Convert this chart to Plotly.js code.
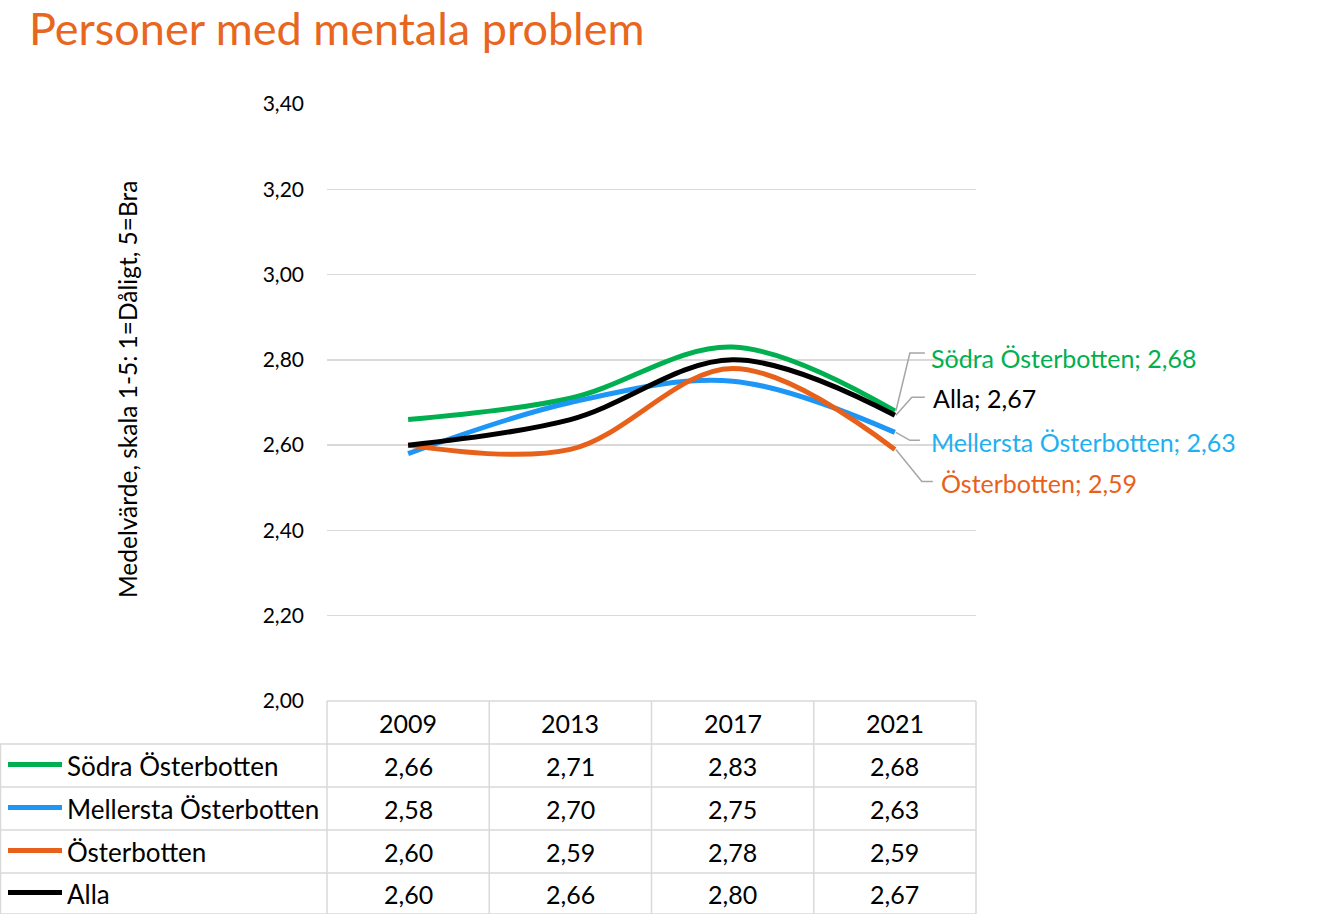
<!DOCTYPE html>
<html><head><meta charset="utf-8">
<script src="https://cdn.plot.ly/plotly-3.0.1.min.js"></script>
<style>body{margin:0;background:#fff}#chart{width:1332px;height:914px}</style>
</head><body><div id="chart"></div>
<script>
const years = ["2009","2013","2017","2021"];
const seriesNames = ["Södra Österbotten","Mellersta Österbotten","Österbotten","Alla"];
const sodra = [2.66, 2.71, 2.83, 2.68];
const mellersta = [2.58, 2.70, 2.75, 2.63];
const osterbotten = [2.60, 2.59, 2.78, 2.59];
const alla = [2.60, 2.66, 2.80, 2.67];
const yTicks = [2.0, 2.2, 2.4, 2.6, 2.8, 3.0, 3.2, 3.4];

const values = [sodra, mellersta, osterbotten, alla];
const lineColors = ["#00B050", "#1E96F5", "#E8611A", "#000000"];
const labelColors = ["#00B050", "#1FB0F0", "#E8611A", "#000000"];
const FONT = "Lato, 'Open Sans', sans-serif";

// plot geometry (pixels)
const L = 327, R = 976, T = 104, B = 701;
const W = R - L, H = B - T;
const px2paperX = p => (p - L) / W;
const py2paperY = p => (B - p) / H;
const v2paperY = v => (v - 2.0) / 1.4;

const traces = values.map((v, i) => ({
  x: years, y: v, type: "scatter", mode: "lines", name: seriesNames[i],
  line: {color: lineColors[i], width: 5, shape: "spline", smoothing: 1},
  hoverinfo: "skip"
}));

const shapes = [];
const annotations = [];
const gridC = "#d9d9d9";

// title
annotations.push({xref:"paper", yref:"paper", x:px2paperX(28), y:py2paperY(0), text:"Personer med mentala problem",
  showarrow:false, xanchor:"left", yanchor:"top", borderpad:0, font:{family:FONT, size:45, color:"#E8661E"}});
// y axis title
annotations.push({xref:"paper", yref:"paper", x:px2paperX(127), y:py2paperY(390), text:"Medelvärde, skala 1-5: 1=Dåligt, 5=Bra",
  showarrow:false, textangle:-90, xanchor:"center", yanchor:"middle", font:{family:FONT, size:24.5, color:"#000"}});

// table borders
const rowB = [701, 744, 787, 830, 873, 914];
shapes.push({type:"line", xref:"paper", yref:"paper", x0:0, x1:1, y0:py2paperY(701), y1:py2paperY(701), line:{color:gridC, width:1.5}});
for (let k = 1; k < rowB.length; k++) {
  shapes.push({type:"line", xref:"paper", yref:"paper", x0:px2paperX(0), x1:1, y0:py2paperY(rowB[k]), y1:py2paperY(rowB[k]), line:{color:gridC, width:1.5}});
}
shapes.push({type:"line", xref:"paper", yref:"paper", x0:px2paperX(0.5), x1:px2paperX(0.5), y0:py2paperY(744), y1:py2paperY(914), line:{color:gridC, width:1.5}});
for (let c = 0; c <= years.length; c++) {
  const xx = c / years.length;
  shapes.push({type:"line", xref:"paper", yref:"paper", x0:xx, x1:xx, y0:py2paperY(701), y1:py2paperY(914), line:{color:gridC, width:1.5}});
}
// header years
years.forEach((yr, c) => {
  annotations.push({xref:"x", yref:"paper", x:c, y:py2paperY(723), text:yr, showarrow:false,
    font:{family:FONT, size:25, color:"#000"}, xanchor:"center", yanchor:"middle"});
});
// rows
seriesNames.forEach((nm, r) => {
  const cy = (rowB[r+1] + rowB[r+2]) / 2;
  shapes.push({type:"line", xref:"paper", yref:"paper", x0:px2paperX(8), x1:px2paperX(62), y0:py2paperY(cy-1), y1:py2paperY(cy-1), line:{color:lineColors[r], width:5}});
  annotations.push({xref:"paper", yref:"paper", x:px2paperX(65), y:py2paperY(cy), text:nm, showarrow:false,
    font:{family:FONT, size:26, color:"#000"}, xanchor:"left", yanchor:"middle"});
  values[r].forEach((v, c) => {
    annotations.push({xref:"x", yref:"paper", x:c, y:py2paperY(cy), text:v.toFixed(2).replace(".", ","), showarrow:false,
      font:{family:FONT, size:25, color:"#000"}, xanchor:"center", yanchor:"middle"});
  });
});

// end labels with leader lines (offsets in pixels from the last point), per series order
const leaders = [
  {pts:[[1,0],[15,-58],[30,-58]], tx:34, ty:-53},   // Södra
  {pts:[[1,0],[15,8],[25,8]], tx:34, ty:10},        // Mellersta
  {pts:[[1,0],[27,32],[38,32]], tx:44, ty:34},      // Österbotten
  {pts:[[1,0],[17,-18],[30,-18]], tx:36, ty:-17}    // Alla
];
const lastIdx = years.length - 1;
values.forEach((v, i) => {
  const ex = L + (lastIdx + 0.5) / years.length * W;
  const ey = B - v2paperY(v[lastIdx]) * H;
  const ld = leaders[i];
  const path = ld.pts.map((p, k) => (k ? "L" : "M") + px2paperX(ex + p[0]).toFixed(5) + "," + py2paperY(ey + p[1]).toFixed(5)).join(" ");
  shapes.push({type:"path", xref:"paper", yref:"paper", path:path, line:{color:"#a6a6a6", width:1.5}});
  annotations.push({xref:"paper", yref:"paper", x:px2paperX(ex + ld.tx), y:py2paperY(ey + ld.ty),
    text:seriesNames[i] + "; " + v[lastIdx].toFixed(2).replace(".", ","), showarrow:false,
    font:{family:FONT, size:25, color:labelColors[i]}, xanchor:"left", yanchor:"middle"});
});

const layout = {
  width:1332, height:914,
  margin:{l:L, r:1332-R, t:T, b:914-B, pad:0},
  paper_bgcolor:"#fff", plot_bgcolor:"#fff",
  separators:",.",
  showlegend:false,
  xaxis:{type:"category", range:[-0.5, 3.5], showticklabels:false, showgrid:false, zeroline:false, showline:false, ticks:"", fixedrange:true},
  yaxis:{range:[2.0, 3.4], tickvals:yTicks, tickformat:".2f", showgrid:true, gridcolor:gridC, gridwidth:1.5,
    zeroline:false, showline:false, ticks:"", ticklabelstandoff:22,
    tickfont:{family:FONT, size:21, color:"#000"}},
  shapes:shapes, annotations:annotations
};
Plotly.newPlot("chart", traces, layout, {displayModeBar:false, staticPlot:true});
</script></body></html>
